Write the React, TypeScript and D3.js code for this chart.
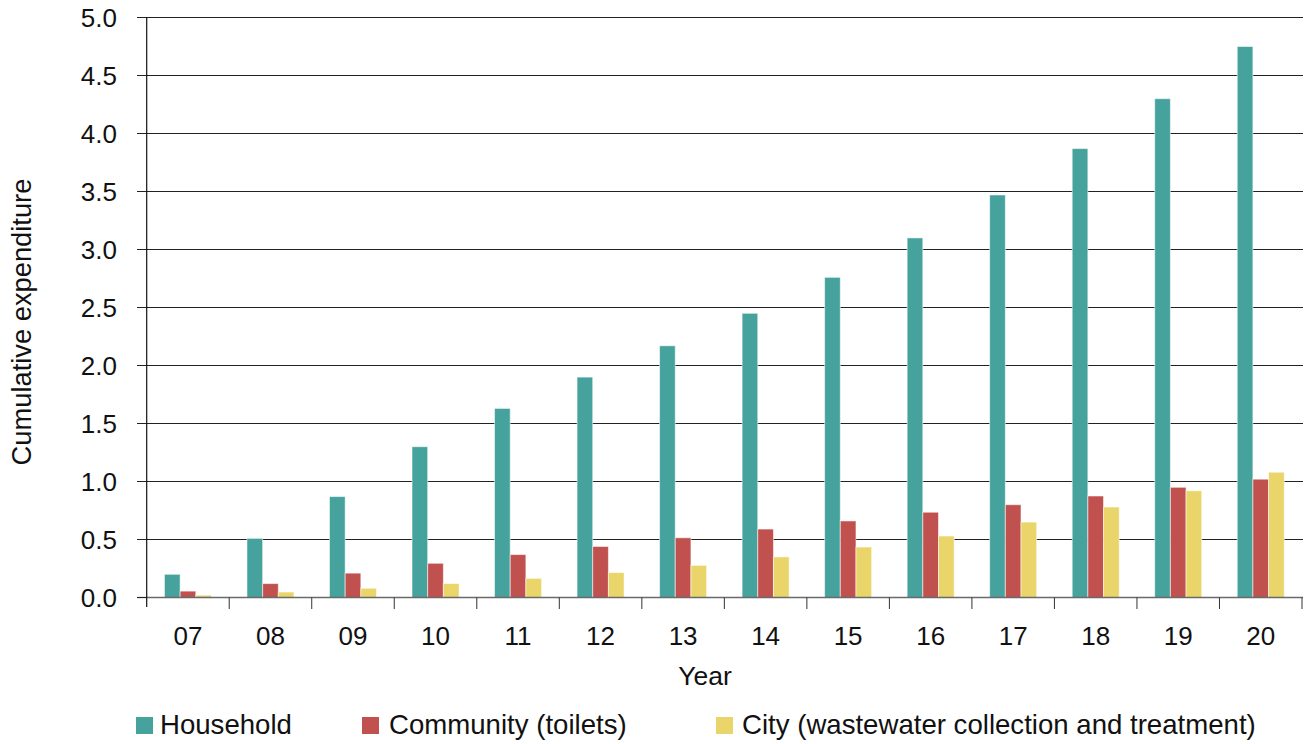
import React from "react";
import * as d3 from "d3";

const years = ["07", "08", "09", "10", "11", "12", "13", "14", "15", "16", "17", "18", "19", "20"];
const household = [0.2, 0.51, 0.87, 1.3, 1.63, 1.9, 2.17, 2.45, 2.76, 3.1, 3.47, 3.87, 4.3, 4.75];
const community = [0.055, 0.12, 0.21, 0.295, 0.37, 0.44, 0.515, 0.59, 0.66, 0.735, 0.8, 0.875, 0.95, 1.02];
const city = [0.02, 0.047, 0.08, 0.12, 0.165, 0.215, 0.277, 0.35, 0.435, 0.53, 0.65, 0.78, 0.92, 1.08];
const seriesNames = ["Household", "Community (toilets)", "City (wastewater collection and treatment)"];
const seriesColors = ["#46A29D", "#C1514E", "#E9D569"];
const yTicks = [0, 0.5, 1, 1.5, 2, 2.5, 3, 3.5, 4, 4.5, 5];

const W = 1306;
const H = 744;
const FONT = "'Liberation Sans', Arial, Helvetica, sans-serif";

export default function App() {
  const left = 146.7;
  const right = 1302;
  const x = d3.scaleBand<string>().domain(years).range([left, right]).padding(0);
  const step = x.bandwidth();
  const keys = ["h", "c", "y"];
  const inner = d3.scaleBand<string>().domain(keys).range([step * 0.215, step * 0.785]).padding(0);
  const y = d3.scaleLinear().domain([0, 5]).range([597.5, 17.5]);
  const data = [household, community, city];
  const legendItems = [
    { sx: 136, tx: 160 },
    { sx: 362, tx: 389 },
    { sx: 716, tx: 742 },
  ];

  return (
    <svg width={W} height={H} style={{ position: "absolute", left: 0, top: 0, background: "#fff" }} fontFamily={FONT}>
      {yTicks.map((t) => (
        <g key={t}>
          {t > 0 && (
            <line x1={137} x2={1303} y1={y(t)} y2={y(t)} stroke="#222" strokeWidth={1.2} />
          )}
          <text x={117} y={y(t)} dy="0.35em" textAnchor="end" fontSize={26} fill="#111">
            {t.toFixed(1)}
          </text>
        </g>
      ))}
      <line x1={137} x2={left} y1={y(0)} y2={y(0)} stroke="#222" strokeWidth={1.2} />
      {years.map((yr, i) => (
        <g key={yr} transform={`translate(${x(yr)},0)`}>
          {keys.map((k, j) => (
            <rect
              key={k}
              x={inner(k)}
              y={y(data[j][i])}
              width={inner.bandwidth()}
              height={y(0) - y(data[j][i])}
              fill={seriesColors[j]}
              stroke="rgba(255,255,255,0.55)"
              strokeWidth={1}
            />
          ))}
        </g>
      ))}
      <line x1={left} x2={1303} y1={y(0)} y2={y(0)} stroke="#6a6a6a" strokeWidth={1.5} />
      {years.map((yr) => (
        <line key={"t" + yr} x1={(x(yr) as number) + step} x2={(x(yr) as number) + step} y1={y(0)} y2={609} stroke="#333" strokeWidth={1} />
      ))}
      <line x1={left} x2={left} y1={17} y2={607} stroke="#111" strokeWidth={1.2} />
      {years.map((yr) => (
        <text key={"l" + yr} x={(x(yr) as number) + step / 2} y={645} textAnchor="middle" fontSize={26} fill="#111">
          {yr}
        </text>
      ))}
      <text x={705} y={685} textAnchor="middle" fontSize={26.5} fill="#111">Year</text>
      <text
        transform={`translate(31,322) rotate(-90)`}
        textAnchor="middle"
        fontSize={27.3}
        fill="#111"
      >
        Cumulative expenditure
      </text>
      {seriesNames.map((name, j) => (
        <g key={name}>
          <rect x={legendItems[j].sx} y={717} width={17} height={17} fill={seriesColors[j]} />
          <text x={legendItems[j].tx} y={734} fontSize={27.6} fill="#111">{name}</text>
        </g>
      ))}
    </svg>
  );
}
